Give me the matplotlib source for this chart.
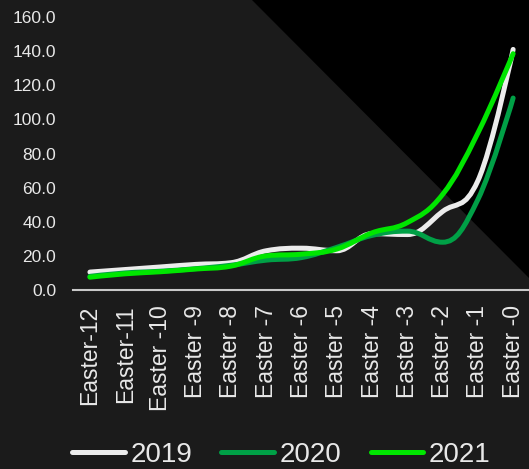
import numpy as np
import matplotlib
matplotlib.use("Agg")
import matplotlib.pyplot as plt
from matplotlib.path import Path
from matplotlib.patches import PathPatch, Polygon
from matplotlib.lines import Line2D

plt.rcParams["font.family"] = ["Liberation Sans", "DejaVu Sans"]

# ---- data ----
labels = ["Easter-12", "Easter-11", "Easter -10", "Easter -9", "Easter -8",
          "Easter -7", "Easter -6", "Easter -5", "Easter -4", "Easter -3",
          "Easter -2", "Easter -1", "Easter -0"]
y2019 = [10.5, 12.0, 13.5, 15.0, 16.0, 23.0, 24.5, 23.0, 33.0, 32.5, 46.0, 64.0, 141.0]
y2020 = [8.0, 10.0, 11.0, 12.5, 14.5, 17.5, 19.0, 25.0, 32.0, 34.5, 28.0, 53.0, 112.5]
y2021 = [7.5, 9.5, 10.7, 12.3, 14.0, 20.0, 21.0, 24.0, 33.5, 39.5, 56.0, 92.0, 138.5]

years = ["2019", "2020", "2021"]
colors = ["#ececec", "#00a046", "#00e600"]
BG = "#1b1b1b"
TXT = "#e8e8e8"


def spline_path(xs, ys, smoothing=1.5):
    # Highcharts style spline: cubic bezier segments through each point
    n = len(xs)
    left = [None] * n
    right = [None] * n
    for i in range(n):
        x, y = xs[i], ys[i]
        if i == 0 or i == n - 1:
            left[i] = (x, y)
            right[i] = (x, y)
            continue
        px, py = xs[i - 1], ys[i - 1]
        nx, ny = xs[i + 1], ys[i + 1]
        d = smoothing + 1
        lcx = (smoothing * x + px) / d
        lcy = (smoothing * y + py) / d
        rcx = (smoothing * x + nx) / d
        rcy = (smoothing * y + ny) / d
        corr = ((rcy - lcy) * (rcx - x)) / (rcx - lcx) + y - rcy
        lcy += corr
        rcy += corr
        if lcy > max(py, y):
            lcy = max(py, y); rcy = 2 * y - lcy
        elif lcy < min(py, y):
            lcy = min(py, y); rcy = 2 * y - lcy
        if rcy > max(ny, y):
            rcy = max(ny, y); lcy = 2 * y - rcy
        elif rcy < min(ny, y):
            rcy = min(ny, y); lcy = 2 * y - rcy
        left[i] = (lcx, lcy)
        right[i] = (rcx, rcy)
    verts = [(xs[0], ys[0])]
    codes = [Path.MOVETO]
    for i in range(1, n):
        verts += [right[i - 1], left[i], (xs[i], ys[i])]
        codes += [Path.CURVE4] * 3
    return Path(verts, codes)


W, H = 529, 469
fig = plt.figure(figsize=(W / 100, H / 100), dpi=100, facecolor=BG)

# black triangle in the upper right of the background
tri = Polygon([(252 / W, 1.0), (1.0, 1.0), (1.0, 1 - 278 / H)], closed=True,
              transform=fig.transFigure, facecolor="black", edgecolor="none", zorder=-10)
fig.patches.append(tri)

ax = fig.add_axes([73 / W, 1 - 290 / H, 456 / W, (290 - 17) / H])
ax.set_facecolor("none")
ax.set_zorder(5)

x = np.arange(len(labels))
for ys, c in zip([y2019, y2020, y2021], colors):
    p = spline_path(list(x), ys)
    ax.add_patch(PathPatch(p, facecolor="none", edgecolor=c, lw=3.6,
                           capstyle="round", joinstyle="round", clip_on=False))

ax.set_xlim(-0.48, 12.45)
ax.set_ylim(0, 160)
ax.set_yticks(np.arange(0, 161, 20))
ax.set_yticklabels([f"{v:.1f}" for v in np.arange(0, 161, 20)])
ax.set_xticks(x)
ax.set_xticklabels(labels, rotation=90)

for s in ["top", "right", "left"]:
    ax.spines[s].set_visible(False)
ax.spines["bottom"].set_color("#c8c8c8")
ax.spines["bottom"].set_linewidth(1.5)
ax.tick_params(axis="x", length=0, pad=11, labelsize=16.5, labelcolor=TXT)
ax.tick_params(axis="y", length=0, pad=12, labelsize=12.5, labelcolor=TXT)

handles = [Line2D([0], [0], color=c, lw=3.6, solid_capstyle="round") for c in colors]
leg = fig.legend(handles, years, loc="center", bbox_to_anchor=(0.532, 0.03),
                 ncol=3, frameon=False, fontsize=20, handlelength=1.9,
                 handletextpad=0.2, columnspacing=1.05, labelcolor=TXT)

fig.savefig("out.png", dpi=100, facecolor=BG)
